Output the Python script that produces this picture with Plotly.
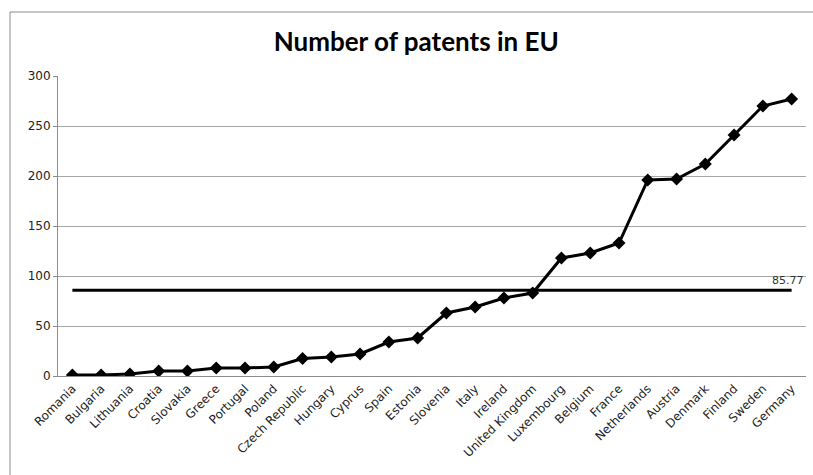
import plotly.graph_objects as go

countries = [
    "Romania", "Bulgaria", "Lithuania", "Croatia", "Slovakia", "Greece",
    "Portugal", "Poland", "Czech Republic", "Hungary", "Cyprus", "Spain",
    "Estonia", "Slovenia", "Italy", "Ireland", "United Kingdom", "Luxembourg",
    "Belgium", "France", "Netherlands", "Austria", "Denmark", "Finland",
    "Sweden", "Germany",
]
patents = [
    1, 1, 2, 5, 5, 8, 8, 9, 17.5, 19, 22, 34, 38, 63, 69, 78, 83, 118,
    123, 133, 196, 197, 212, 241, 270, 277,
]
average = 85.77

W, H = 813, 475
M = dict(l=58, r=7, t=76, b=99)
pw = W - M["l"] - M["r"]
ph = H - M["t"] - M["b"]


def px_x(x):
    return (x - M["l"]) / pw


def px_y(y):
    return (H - M["b"] - y) / ph


fig = go.Figure()
fig.add_trace(go.Scatter(
    x=countries, y=[average] * len(countries), mode="lines",
    line=dict(color="black", width=3), hoverinfo="skip",
))
fig.add_trace(go.Scatter(
    x=countries, y=patents, mode="lines+markers",
    line=dict(color="black", width=3),
    marker=dict(symbol="diamond", size=10, color="black"),
))
fig.add_annotation(
    x=countries[-1], y=average, text=f"{average:.2f}", showarrow=False,
    xanchor="right", xshift=14, yanchor="bottom", yshift=1,
    font=dict(size=11, color="#333333"),
)

# outer chart border
fig.add_shape(
    type="rect", xref="paper", yref="paper",
    x0=px_x(10), x1=px_x(W + 5), y0=px_y(H + 5), y1=px_y(12),
    line=dict(color="#8c8c8c", width=1), layer="below",
)

fig.update_layout(
    width=W, height=H, margin=M,
    paper_bgcolor="white", plot_bgcolor="white",
    showlegend=False,
    font=dict(family="DejaVu Sans", size=12, color="#222222"),
    title=dict(
        text="<b>Number of patents in EU</b>", x=0.512, xanchor="center",
        y=1 - 42 / H, yanchor="middle",
        font=dict(family="Lato", size=26, color="black"),
    ),
)
fig.update_xaxes(
    type="category", range=[-0.5, len(countries) - 0.5], automargin=False,
    tickangle=-45, showline=True, linecolor="#8c8c8c", linewidth=1,
    showgrid=False, ticks="", tickfont=dict(size=12),
)
fig.update_yaxes(
    range=[0, 300], dtick=50, showline=True, linecolor="#8c8c8c",
    automargin=False,
    gridcolor="#a6a6a6", gridwidth=1, ticks="outside", ticklen=4,
    tickcolor="#8c8c8c", zeroline=False, tickfont=dict(size=12),
)

# the browser's default body margin would shift the figure by 8px
fig.write_html(
    "out.html",
    config={"displayModeBar": False},
    post_script="document.body.style.margin='0px';",
)
